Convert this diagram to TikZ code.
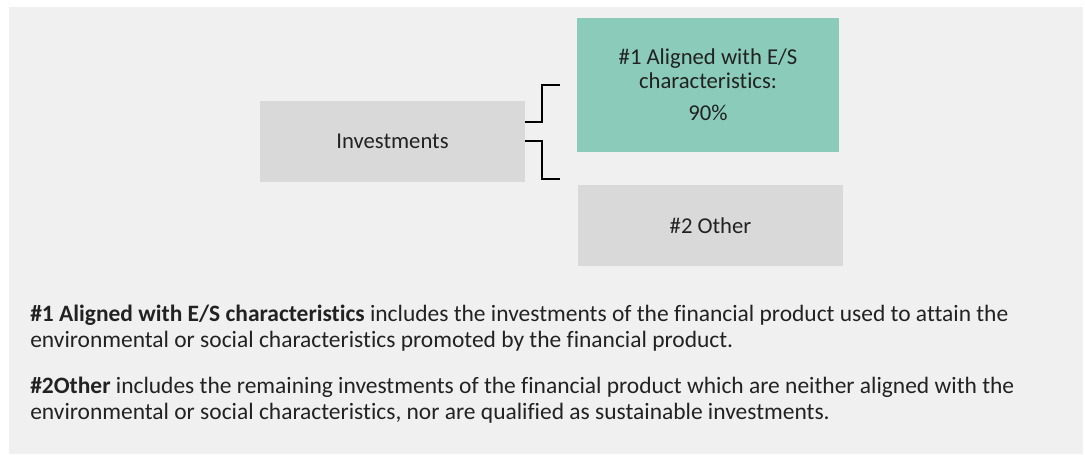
\documentclass[tikz,border=0pt]{standalone}
\usepackage{fontspec}
\setmainfont[Ligatures={NoCommon}]{Carlito}
\definecolor{panelgray}{HTML}{F0F0F0}
\definecolor{boxgray}{HTML}{D9D9D9}
\definecolor{esgreen}{HTML}{8ACBB9}
\definecolor{inkgray}{HTML}{222222}
\begin{document}
\begin{tikzpicture}[x=0.75pt, y=-0.75pt, every node/.style={text=inkgray, font=\fontsize{17}{18}\selectfont},
  catbox/.style={inner sep=0pt, align=center, minimum width=198.75pt, minimum height=60.75pt}]

\useasboundingbox (0,0) rectangle (1085,454);

%Panel Drawing

\fill [panelgray] (9,7) rectangle (1083,454);

%Box Drawings

\node [catbox, fill=boxgray] (inv) at (392.5,141.5) {Investments};
\node [catbox, fill=esgreen, minimum width=196.5pt, minimum height=100.5pt] (aligned) at (708,85) {\#1 Aligned with E/S\\characteristics:\\[6pt]90\%};
\node [catbox, fill=boxgray] (other) at (710.5,225.5) {\#2 Other};

%Connector Drawings

\coordinate (upend) at (560,85);
\coordinate (lowend) at (560,179);
\draw [black, line width=1.3pt] ([yshift=14.6pt]inv.east) -| (542,85) -- (upend);
\draw [black, line width=1.3pt] ([yshift=0.4pt]inv.east) -| (542,179) -- (lowend);

%Explanation text

\node [anchor=north west, align=left, inner sep=0pt, font=\fontsize{17.6}{19.5}\selectfont] (notes) at (30,305)
  {\textbf{\#1 Aligned with E/S characteristics} includes the investments of the financial product used to attain the\\
   environmental or social characteristics promoted by the financial product.\\[15pt]
   \textbf{\#2Other} includes the remaining investments of the financial product which are neither aligned with the\\
   environmental or social characteristics, nor are qualified as sustainable investments.};

\end{tikzpicture}
\end{document}
